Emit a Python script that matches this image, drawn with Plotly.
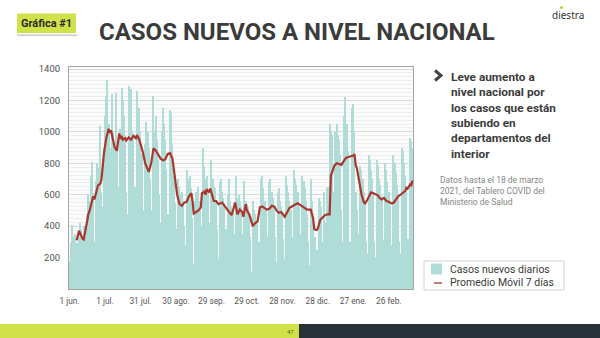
import pandas as pd
import plotly.graph_objects as go

# ---------------- data ----------------
start_date = "2020-06-01"
end_date = "2021-03-18"

daily_cases = [
    180, 290, 410, 330, 300, 350, 290,
    150, 330, 420, 380, 310, 400, 330,
    210, 470, 600, 560, 720, 810, 610,
    300, 690, 800, 700, 770, 1040, 620,
    520, 900, 1100, 1230, 1330, 1050, 900,
    400, 1240, 1000, 930, 1250, 900, 650,
    500, 1020, 1280, 1200, 1100, 980, 620,
    480, 1290, 1050, 1270, 1000, 980, 650,
    450, 1260, 1000, 1150, 1000, 860, 500,
    380, 920, 1060, 1000, 900, 700, 500,
    450, 1230, 1000, 1100, 950, 820, 600,
    420, 1000, 1150, 1050, 950, 760, 480,
    400, 1140, 1120, 930, 720, 550, 380,
    250, 700, 650, 600, 620, 560, 400,
    280, 760, 700, 660, 720, 640, 450,
    160, 560, 620, 600, 650, 560, 400,
    230, 900, 780, 700, 720, 620, 420,
    200, 820, 700, 650, 640, 560, 380,
    190, 680, 700, 620, 580, 550, 380,
    170, 600, 700, 560, 520, 500, 350,
    160, 720, 580, 600, 560, 520, 350,
    180, 690, 560, 540, 520, 480, 330,
    110, 560, 500, 480, 440, 420, 300,
    180, 700, 720, 640, 560, 500, 340,
    200, 680, 700, 620, 580, 500, 330,
    170, 620, 640, 560, 520, 470, 320,
    190, 720, 660, 620, 560, 500, 330,
    200, 760, 700, 660, 620, 520, 350,
    190, 720, 690, 640, 560, 470, 300,
    150, 700, 560, 420, 240, 330, 250,
    130, 580, 560, 520, 300, 620, 420,
    200, 640, 650, 1050, 1000, 980, 620,
    280, 1000, 1050, 980, 950, 850, 500,
    300, 1100, 1224, 1000, 1050, 880, 300,
    280, 1150, 1180, 1000, 620, 500, 350,
    150, 780, 760, 700, 620, 560, 300,
    220, 850, 820, 760, 700, 620, 300,
    200, 820, 780, 700, 660, 590, 310,
    180, 800, 760, 680, 620, 530, 280,
    200, 850, 800, 740, 660, 580, 300,
    220, 900, 880, 800, 720, 640, 320,
    250, 960, 940, 900,
]

ma_dates = [
    "2020-06-07", "2020-06-09", "2020-06-10", "2020-06-12", "2020-06-13", "2020-06-15",
    "2020-06-17", "2020-06-18", "2020-06-20", "2020-06-21", "2020-06-22", "2020-06-23",
    "2020-06-25", "2020-06-27", "2020-06-28", "2020-06-30", "2020-07-02", "2020-07-04",
    "2020-07-05", "2020-07-06", "2020-07-08", "2020-07-09", "2020-07-11", "2020-07-12",
    "2020-07-13", "2020-07-14", "2020-07-15", "2020-07-16", "2020-07-18", "2020-07-19",
    "2020-07-21", "2020-07-23", "2020-07-25", "2020-07-27", "2020-07-28", "2020-07-30",
    "2020-08-01", "2020-08-02", "2020-08-04", "2020-08-06", "2020-08-07", "2020-08-09",
    "2020-08-11", "2020-08-13", "2020-08-15", "2020-08-17", "2020-08-19", "2020-08-21",
    "2020-08-23", "2020-08-25", "2020-08-27", "2020-08-29", "2020-08-31", "2020-09-02",
    "2020-09-04", "2020-09-06", "2020-09-08", "2020-09-10", "2020-09-12", "2020-09-13",
    "2020-09-14", "2020-09-16", "2020-09-18", "2020-09-20", "2020-09-21", "2020-09-23",
    "2020-09-24", "2020-09-25", "2020-09-27", "2020-09-28", "2020-09-30", "2020-10-01",
    "2020-10-03", "2020-10-05", "2020-10-08", "2020-10-10", "2020-10-12", "2020-10-14",
    "2020-10-16", "2020-10-18", "2020-10-19", "2020-10-21", "2020-10-23", "2020-10-25",
    "2020-10-26", "2020-10-28", "2020-10-29", "2020-10-31", "2020-11-02", "2020-11-03",
    "2020-11-05", "2020-11-07", "2020-11-09", "2020-11-11", "2020-11-13", "2020-11-15",
    "2020-11-17", "2020-11-19", "2020-11-21", "2020-11-23", "2020-11-25", "2020-11-27",
    "2020-11-30", "2020-12-02", "2020-12-04", "2020-12-07", "2020-12-09", "2020-12-11",
    "2020-12-13", "2020-12-15", "2020-12-17", "2020-12-19", "2020-12-22", "2020-12-24",
    "2020-12-25", "2020-12-27", "2020-12-28", "2020-12-30", "2021-01-01", "2021-01-03",
    "2021-01-05", "2021-01-07", "2021-01-08", "2021-01-10", "2021-01-11", "2021-01-13",
    "2021-01-15", "2021-01-17", "2021-01-19", "2021-01-21", "2021-01-23", "2021-01-25",
    "2021-01-26", "2021-01-27", "2021-01-28", "2021-01-29", "2021-01-30", "2021-02-01",
    "2021-02-03", "2021-02-05", "2021-02-06", "2021-02-08", "2021-02-09", "2021-02-11",
    "2021-02-13", "2021-02-15", "2021-02-17", "2021-02-18", "2021-02-20", "2021-02-22",
    "2021-02-24", "2021-02-26", "2021-02-28", "2021-03-02", "2021-03-04", "2021-03-06",
    "2021-03-08", "2021-03-10", "2021-03-12", "2021-03-13", "2021-03-14", "2021-03-16",
    "2021-03-17", "2021-03-18",
]
ma_values = [
    310, 370, 355, 320, 315, 400,
    480, 500, 560, 590, 570, 600,
    660, 670, 700, 860, 960, 1020,
    995, 1010, 940, 905, 880, 930,
    990, 955, 975, 950, 960, 945,
    965, 950, 975, 960, 980, 950,
    900, 870, 800, 760, 745, 800,
    895, 880, 850, 830, 820, 825,
    860, 865, 830, 720, 600, 540,
    530, 550, 555, 590, 610, 560,
    480, 490, 500, 520, 610, 620,
    600, 635, 615, 640, 580, 560,
    560, 540, 550, 530, 515, 495,
    470, 520, 550, 475, 505, 490,
    460, 540, 500, 475, 420, 400,
    420, 430, 520, 525, 515, 505,
    510, 530, 525, 500, 485, 490,
    460, 490, 515, 530, 540, 545,
    535, 525, 510, 505, 505, 450,
    380, 375, 385, 440, 455, 470,
    475, 475, 720, 770, 785, 800,
    795, 790, 815, 835, 840, 845,
    850, 850, 858, 790, 770, 680,
    600, 550, 545, 570, 585, 615,
    610, 600, 595, 580, 570, 580,
    560, 555, 545, 548, 570, 590,
    600, 615, 625, 645, 640, 665,
    660, 690,
]

tick_dates = ["2020-06-01", "2020-07-01", "2020-07-31", "2020-08-30", "2020-09-29",
              "2020-10-29", "2020-11-28", "2020-12-28", "2021-01-27", "2021-02-26"]
tick_labels = ["1 jun.", "1 jul.", "31 jul.", "30 ago.", "29 sep.",
               "29 oct.", "28 nov.", "28 dic.", "27 ene.", "26 feb."]
y_ticks = [200, 400, 600, 800, 1000, 1200, 1400]

title_text = "CASOS NUEVOS A NIVEL NACIONAL"
badge_text = "Gráfica #1"
insight_lines = ["Leve aumento a", "nivel nacional por", "los casos que están",
                 "subiendo en", "departamentos del", "interior"]
source_lines = ["Datos hasta el 18 de marzo", "2021, del Tablero COVID del", "Ministerio de Salud"]
bar_name = "Casos nuevos diarios"
line_name = "Promedio Móvil 7 días"
page_number = "47"
logo_text = "diestra"

dates = pd.date_range(start_date, end_date, freq="D")

# ---------------- layout helpers (pixel -> paper) ----------------
W, H = 600, 338
PL, PR, PT, PB = 69, 413, 67, 289


def px(x):
    return (x - PL) / (PR - PL)


def py(y):
    return (PB - y) / (PB - PT)


TEAL = "#afdcd7"
RED = "#a8372f"
DARK = "#3b3b3b"
LIME = "#d0e24a"
NAVY = "#263238"

fig = go.Figure()
fig.add_trace(go.Bar(
    x=dates, y=daily_cases, name=bar_name, showlegend=False,
    marker=dict(color=TEAL, line=dict(width=0)),
))
fig.add_trace(go.Scatter(
    x=pd.to_datetime(ma_dates), y=ma_values, name=line_name, mode="lines", showlegend=False,
    line=dict(color=RED, width=2.2),
))

shapes = [
    # footer bars
    dict(type="rect", xref="paper", yref="paper", x0=px(0), x1=px(299), y0=py(338), y1=py(324),
         fillcolor=LIME, line=dict(width=0), layer="above"),
    dict(type="rect", xref="paper", yref="paper", x0=px(299), x1=px(600), y0=py(338), y1=py(324),
         fillcolor=NAVY, line=dict(width=0), layer="above"),
    # badge
    dict(type="rect", xref="paper", yref="paper", x0=px(17), x1=px(77), y0=py(36), y1=py(34.5),
         fillcolor="#c9c9c9", line=dict(width=0)),
    dict(type="rect", xref="paper", yref="paper", x0=px(17), x1=px(76), y0=py(33), y1=py(13.5),
         fillcolor=LIME, line=dict(width=0)),
    # chevron
    dict(type="path", xref="paper", yref="paper",
         path=f"M {px(435)} {py(70.5)} L {px(441)} {py(75.5)} L {px(435)} {py(80.5)}",
         line=dict(color="#444444", width=3)),
    # logo dot
    dict(type="circle", xref="paper", yref="paper", x0=px(560), x1=px(563), y0=py(9), y1=py(6),
         fillcolor="#b8cf3a", line=dict(width=0)),
    # legend box and keys
    dict(type="rect", xref="paper", yref="paper", x0=px(424), x1=px(564), y0=py(290), y1=py(261),
         fillcolor="white", line=dict(color="#d2d2d2", width=1)),
    dict(type="rect", xref="paper", yref="paper", x0=px(431), x1=px(442), y0=py(274.5), y1=py(263.5),
         fillcolor=TEAL, line=dict(width=0)),
    dict(type="line", xref="paper", yref="paper", x0=px(434), x1=px(442), y0=py(283), y1=py(283),
         line=dict(color=RED, width=1.3)),
]

annotations = [
    dict(text=f"<b>{badge_text}</b>", x=px(46.5), y=py(23.5), xanchor="center", yanchor="middle",
         font=dict(family="Roboto", size=11, color="#2b2b2b")),
    dict(text=f"<b>{title_text}</b>", x=px(97), y=py(32.5), xanchor="left", yanchor="middle",
         font=dict(family="Roboto", size=24, color=DARK)),
    dict(text=logo_text, x=px(568), y=py(15), xanchor="center", yanchor="middle",
         font=dict(family="Noto Sans", size=10, color="#333333")),
    dict(text="<b>" + "<br>".join(insight_lines) + "</b>", x=px(449), y=py(68), xanchor="left",
         yanchor="top", align="left",
         font=dict(family="Roboto", size=11.8, color=DARK)),
    dict(text="<br>".join(source_lines), x=px(438), y=py(172.5), xanchor="left", yanchor="top",
         align="left", font=dict(family="Roboto", size=8.5, color="#858585")),
    dict(text=page_number, x=px(290), y=py(331), xanchor="center", yanchor="middle",
         font=dict(family="Roboto", size=6, color="#5a6a20")),
    dict(text=bar_name, x=px(448), y=py(269.5), xanchor="left", yanchor="middle",
         font=dict(family="Roboto", size=10.5, color="#3a3a3a")),
    dict(text=line_name, x=px(448), y=py(282.5), xanchor="left", yanchor="middle",
         font=dict(family="Roboto", size=10.5, color="#3a3a3a")),
]
for a in annotations:
    a.setdefault("xref", "paper")
    a.setdefault("yref", "paper")
    a["showarrow"] = False

fig.update_layout(
    width=W, height=H,
    margin=dict(l=PL, r=W - PR, t=PT, b=H - PB, pad=0),
    paper_bgcolor="white",
    plot_bgcolor="#fbfbfb",
    bargap=0,
    showlegend=False,
    shapes=shapes,
    annotations=annotations,
    xaxis=dict(
        type="date",
        range=["2020-05-31 12:00", "2021-03-18 12:00"],
        tickvals=pd.to_datetime(tick_dates), ticktext=tick_labels,
        tickfont=dict(family="Roboto", size=8.3, color="#555555"),
        ticks="", showgrid=False, zeroline=False,
        showline=True, mirror=True, linecolor="#a5a5a5", linewidth=1,
        ticklabelstandoff=4,
    ),
    yaxis=dict(
        range=[0, 1413],
        tickvals=y_ticks,
        tickfont=dict(family="Roboto", size=9.5, color="#555555"),
        ticks="", showgrid=True, gridcolor="#d9d9d9", gridwidth=1, zeroline=False,
        minor=dict(dtick=25, showgrid=True, gridcolor="#eeeeee", gridwidth=1),
        showline=True, mirror=True, linecolor="#a5a5a5", linewidth=1,
        ticklabelstandoff=6,
    ),
)

fig.write_html("out.html")
